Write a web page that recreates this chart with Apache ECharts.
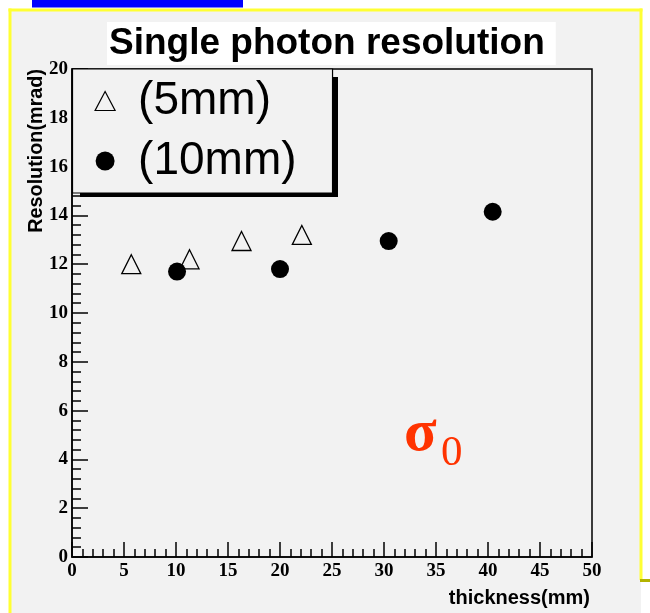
<!DOCTYPE html>
<html>
<head>
<meta charset="utf-8">
<script src="https://cdn.jsdelivr.net/npm/echarts@6/dist/echarts.min.js"></script>
<style>
html,body{margin:0;padding:0;background:#ffffff;}
#chart{width:650px;height:613px;}
</style>
</head>
<body>
<div id="chart"></div>
<script>
// ---- data ----
const seriesNames = ['(5mm)', '(10mm)'];
const thickness5mm = [5.7, 11.3, 16.3, 22.1];
const resolution5mm = [12.0, 12.2, 12.95, 13.2];
const thickness10mm = [10.1, 20.0, 30.45, 40.45];
const resolution10mm = [11.7, 11.8, 12.95, 14.15];
const xTickValues = [0, 5, 10, 15, 20, 25, 30, 35, 40, 45, 50];
const yTickValues = [0, 2, 4, 6, 8, 10, 12, 14, 16, 18, 20];
const titleText = 'Single photon resolution';
const xAxisName = 'thickness(mm)';
const yAxisName = 'Resolution(mrad)';

const pairs = (xs, ys) => xs.map((x, i) => [x, ys[i]]);

const chart = echarts.init(document.getElementById('chart'), null, {renderer: 'canvas'});

const tickFont = {fontFamily: 'Liberation Serif', fontWeight: 'bold', fontSize: 19, color: '#000'};

const option = {
  backgroundColor: '#ffffff',
  animation: false,
  title: {
    text: titleText,
    left: 107,
    top: 22,
    backgroundColor: '#ffffff',
    padding: [3, 11, 3, 2],
    textStyle: {fontFamily: 'Liberation Sans', fontWeight: 'bold', fontSize: 37, color: '#000', lineHeight: 37}
  },
  grid: {
    left: 72, top: 69, right: 58, bottom: 56,
    show: true, borderColor: '#000', borderWidth: 1.5, backgroundColor: 'transparent',
    containLabel: false, outerBoundsMode: 'none'
  },
  legend: {
    orient: 'vertical',
    left: 72.5, top: 69,
    padding: [9, 36, 9, 22],
    itemGap: 14,
    itemWidth: 20, itemHeight: 19,
    backgroundColor: '#f2f2f2',
    borderColor: '#000', borderWidth: 1.2, borderRadius: 0,
    textStyle: {fontFamily: 'Liberation Sans', fontSize: 46, lineHeight: 46, color: '#000', padding: [0, 0, 0, 18]},
    data: [
      {name: seriesNames[0], icon: 'triangle', itemStyle: {color: 'rgba(0,0,0,0)', borderColor: '#000', borderWidth: 1.2}},
      {name: seriesNames[1], icon: 'circle', itemStyle: {color: '#000', borderWidth: 0}}
    ],
    z: 20
  },
  xAxis: {
    type: 'value', min: xTickValues[0], max: xTickValues[xTickValues.length - 1], interval: 5,
    name: xAxisName, nameLocation: 'end', nameGap: -2, nameMoveOverlap: false,
    nameTextStyle: {fontFamily: 'Liberation Sans', fontWeight: 'bold', fontSize: 20, lineHeight: 20, color: '#000', align: 'right', verticalAlign: 'top', padding: [31, 0, 0, 0]},
    axisLine: {show: true, onZero: false, lineStyle: {color: '#000', width: 1.5}},
    axisTick: {show: true, inside: true, length: 15, lineStyle: {color: '#000', width: 1.5}},
    minorTick: {show: true, splitNumber: 5, length: 8, lineStyle: {color: '#000', width: 1.5}},
    axisLabel: Object.assign({margin: 5, showMinLabel: true, showMaxLabel: true, hideOverlap: false}, tickFont),
    splitLine: {show: false}
  },
  yAxis: {
    type: 'value', min: yTickValues[0], max: yTickValues[yTickValues.length - 1], interval: 2,
    name: yAxisName, nameLocation: 'end', nameGap: 0, nameRotate: 90, nameMoveOverlap: false,
    nameTextStyle: {fontFamily: 'Liberation Sans', fontWeight: 'bold', fontSize: 19.8, lineHeight: 20, color: '#000', align: 'right', verticalAlign: 'bottom', padding: [0, 0, 25, 0]},
    axisLine: {show: true, onZero: false, lineStyle: {color: '#000', width: 1.5}},
    axisTick: {show: true, inside: true, length: 16, lineStyle: {color: '#000', width: 1.5}},
    minorTick: {show: true, splitNumber: 5, length: 9, lineStyle: {color: '#000', width: 1.5}},
    axisLabel: Object.assign({margin: 4, showMinLabel: true, showMaxLabel: true, hideOverlap: false}, tickFont),
    splitLine: {show: false}
  },
  series: [
    {
      name: seriesNames[0], type: 'scatter', symbol: 'triangle', symbolSize: [19, 19],
      itemStyle: {color: 'rgba(0,0,0,0)', borderColor: '#000', borderWidth: 1.3, opacity: 1},
      data: pairs(thickness5mm, resolution5mm), z: 3
    },
    {
      name: seriesNames[1], type: 'scatter', symbol: 'circle', symbolSize: 18,
      itemStyle: {color: '#000', opacity: 1},
      data: pairs(thickness10mm, resolution10mm), z: 4
    }
  ],
  graphic: [
    // page decoration: gray canvas, yellow frame, blue bar
    {type: 'rect', z: -100, shape: {x: 10, y: 10, width: 631, height: 603}, style: {fill: '#f2f2f2'}},
    {type: 'rect', z: -99, shape: {x: 32, y: 0, width: 211, height: 7.5}, style: {fill: '#0000ff'}},
    {type: 'line', z: -98, shape: {x1: 8.5, y1: 10, x2: 642.5, y2: 10}, style: {stroke: '#ffff33', lineWidth: 3}},
    {type: 'line', z: -98, shape: {x1: 10, y1: 8.5, x2: 10, y2: 613}, style: {stroke: '#ffff33', lineWidth: 3}},
    {type: 'line', z: -98, shape: {x1: 641, y1: 8.5, x2: 641, y2: 580}, style: {stroke: '#ffff33', lineWidth: 3}},
    {type: 'line', z: -97, shape: {x1: 640, y1: 580.5, x2: 650, y2: 580.5}, style: {stroke: '#b3b300', lineWidth: 3}},
    // legend shadow
    {type: 'rect', z: 19, shape: {x: 333, y: 77, width: 5, height: 120}, style: {fill: '#000'}},
    {type: 'rect', z: 19, shape: {x: 80, y: 192, width: 258, height: 5}, style: {fill: '#000'}},
    // sigma_0 annotation
    {type: 'text', z: 30, x: 404, y: 434, style: {text: 'σ', fontFamily: 'Liberation Serif', fontWeight: 'bold', fontSize: 60, fill: '#ff3300', align: 'left', verticalAlign: 'middle'}},
    {type: 'text', z: 30, x: 441, y: 454, style: {text: '0', fontFamily: 'Liberation Serif', fontSize: 43, fill: '#ff3300', align: 'left', verticalAlign: 'middle'}}
  ]
};
chart.setOption(option);
</script>
</body>
</html>
